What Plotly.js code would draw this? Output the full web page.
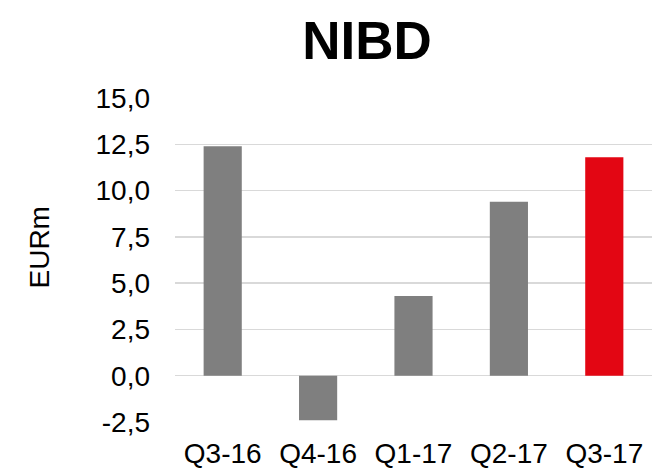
<!DOCTYPE html>
<html>
<head>
<meta charset="utf-8">
<script src="https://cdn.plot.ly/plotly-3.0.1.min.js"></script>
<style>
  html, body { margin: 0; padding: 0; background: #fff; }
  #chart { width: 659px; height: 470px; }
</style>
</head>
<body>
<div id="chart"></div>
<script>
// Net interest-bearing debt per quarter, EUR millions
const quarters = ["Q3-16", "Q4-16", "Q1-17", "Q2-17", "Q3-17"];
const nibd = [12.4, -2.4, 4.3, 9.4, 11.8];
const barColors = ["#7f7f7f", "#7f7f7f", "#7f7f7f", "#7f7f7f", "#e30613"];
const yTicks = [-2.5, 0, 2.5, 5, 7.5, 10, 12.5, 15];
// decimal comma and a plain hyphen for negatives
const yTickText = yTicks.map(v => v.toFixed(1).replace(".", ","));

const FONT = "Liberation Sans, Arial, sans-serif";

const trace = {
  type: "bar",
  x: quarters,
  y: nibd,
  marker: { color: barColors, line: { width: 0 } },
  hoverinfo: "none"
};

const layout = {
  width: 659,
  height: 470,
  margin: { l: 175, r: 7, t: 98, b: 48 },
  paper_bgcolor: "#ffffff",
  plot_bgcolor: "#ffffff",
  bargap: 0.6,
  showlegend: false,
  font: { family: FONT, color: "#000000", size: 28 },
  title: {
    text: "<b>NIBD</b>",
    font: { family: FONT, size: 53, color: "#000000" },
    xref: "container",
    yref: "container",
    x: 367 / 659,
    xanchor: "center",
    y: 1 - 40 / 470,
    yanchor: "middle"
  },
  xaxis: {
    type: "category",
    showgrid: false,
    zeroline: false,
    showline: false,
    ticks: "",
    ticklabelstandoff: 12,
    tickfont: { family: FONT, size: 28, color: "#000000" }
  },
  yaxis: {
    range: [-2.5, 15],
    tickmode: "array",
    tickvals: yTicks,
    ticktext: yTickText,
    showgrid: true,
    gridcolor: "#d9d9d9",
    gridwidth: 1.5,
    zeroline: true,
    zerolinecolor: "#d9d9d9",
    zerolinewidth: 1.5,
    showline: false,
    ticks: "",
    ticklabelstandoff: 24,
    tickfont: { family: FONT, size: 28, color: "#000000" }
  },
  annotations: [{
    text: "EURm",
    textangle: -90,
    xref: "paper",
    yref: "paper",
    x: (39.5 - 175) / 477,
    y: (422 - 248) / 324,
    xanchor: "center",
    yanchor: "middle",
    showarrow: false,
    font: { family: FONT, size: 28, color: "#000000" }
  }]
};

Plotly.newPlot("chart", [trace], layout, { staticPlot: true, displayModeBar: false });
</script>
</body>
</html>
